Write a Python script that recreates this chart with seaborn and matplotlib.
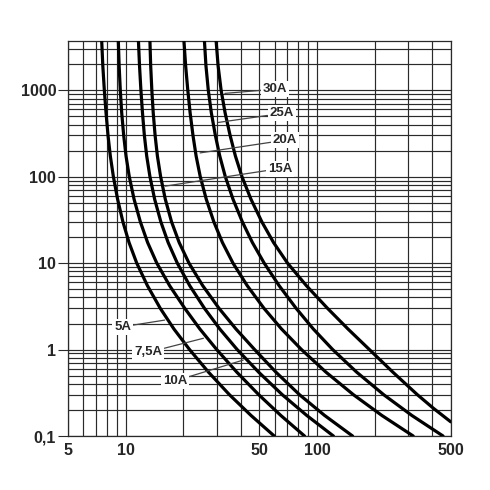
import numpy as np
import pandas as pd
import seaborn as sns
import matplotlib.pyplot as plt
from matplotlib.ticker import FixedLocator, NullFormatter

time_s = [3700, 1920, 1000, 548, 300, 173, 100, 54.8, 30, 17.3,
          10, 5.48, 3, 1.73, 1, 0.548, 0.3, 0.173, 0.1]
# 30A runs off the right edge before reaching 0.1 s
time_30a = [3700, 1920, 1000, 548, 300, 173, 100, 54.8, 30, 17.3,
            10, 5.48, 3, 1.73, 1, 0.548, 0.3, 0.209, 0.146]

# pre-arcing current (A) per fuse rating
cur_5a = [7.50, 7.60, 7.74, 7.90, 8.09, 8.32, 8.63, 9.08, 9.68, 10.42,
          11.43, 13.0, 15.17, 17.88, 21.58, 27.1, 34.9, 45.2, 59.8]
cur_7_5a = [9.16, 9.25, 9.38, 9.54, 9.77, 10.05, 10.45, 11.07, 11.94, 13.03,
            14.55, 16.98, 20.37, 24.43, 29.92, 38.1, 49.66, 64.7, 86.1]
cur_10a = [11.67, 11.82, 12.02, 12.25, 12.53, 12.89, 13.40, 14.18, 15.28, 16.68,
           18.62, 21.63, 25.82, 31.05, 38.28, 49.55, 65.92, 88.4, 121.9]
cur_15a = [13.40, 13.52, 13.71, 13.94, 14.26, 14.66, 15.24, 16.12, 17.38, 19.05,
           21.43, 25.29, 30.76, 37.72, 47.21, 61.0, 81.1, 109.6, 153.5]
cur_20a = [20.18, 20.59, 21.13, 21.73, 22.49, 23.36, 24.55, 26.39, 28.91, 32.05,
           36.39, 43.21, 52.84, 65.27, 82.99, 111.4, 155.2, 218.3, 318.4]
cur_25a = [25.82, 26.29, 27.04, 28.05, 29.44, 31.05, 33.19, 36.41, 40.74, 45.97,
           52.97, 63.43, 77.80, 95.68, 120.8, 161.2, 223.4, 313.1, 456.0]
cur_30a = [29.72, 30.43, 31.55, 33.10, 35.16, 37.48, 40.55, 45.19, 51.52, 59.29,
           70.15, 88.05, 113.5, 145.2, 187.9, 249.2, 335.0, 406.3, 500]

labels = ["5A", "7,5A", "10A", "15A", "20A", "25A", "30A"]

x_major = [5, 10, 50, 100, 500]
x_major_labels = ["5", "10", "50", "100", "500"]
y_major = [0.1, 1, 10, 100, 1000]
y_major_labels = ["0,1", "1", "10", "100", "1000"]

rows = []
series = [cur_5a, cur_7_5a, cur_10a, cur_15a, cur_20a, cur_25a, cur_30a]
for lab, cur in zip(labels, series):
    tt = time_30a if lab == "30A" else time_s
    for c, t in zip(cur, tt):
        rows.append({"fuse": lab, "current": c, "time": t})
df = pd.DataFrame(rows)

sns.set_style("white")
plt.rcParams["font.family"] = ["Liberation Sans", "DejaVu Sans"]

fig = plt.figure(figsize=(4.9, 4.9), dpi=100)
ax = fig.add_axes([0.1388, 0.1102, 0.781, 0.8061])

sns.lineplot(data=df, x="current", y="time", hue="fuse", units="fuse",
             estimator=None, sort=False, palette=["black"] * 7,
             linewidth=2.3, legend=False, ax=ax, zorder=3)
for ln in ax.lines:
    ln.set_solid_joinstyle("round")

ax.set_xscale("log")
ax.set_yscale("log")
ax.set_xlim(5, 500)
ax.set_ylim(0.1, 3700)

ax.xaxis.set_major_locator(FixedLocator(x_major))
ax.set_xticklabels(x_major_labels)
x_minor = [m * d for d in (1, 10, 100) for m in range(2, 10) if 5 < m * d < 500 and m * d not in x_major]
ax.xaxis.set_minor_locator(FixedLocator(x_minor))
ax.xaxis.set_minor_formatter(NullFormatter())

ax.yaxis.set_major_locator(FixedLocator(y_major))
ax.set_yticklabels(y_major_labels)
y_minor = [m * d for d in (0.1, 1, 10, 100, 1000) for m in range(2, 10) if m * d < 3700]
ax.yaxis.set_minor_locator(FixedLocator(y_minor))
ax.yaxis.set_minor_formatter(NullFormatter())

ax.grid(True, which="both", color="#2a2a2a", linewidth=0.85)
for s in ax.spines.values():
    s.set_color("#2a2a2a")
    s.set_linewidth(0.9)

ax.tick_params(axis="y", which="major", length=7, width=0.8, color="#2a2a2a",
               labelsize=11.5, pad=1.5, left=True)
ax.tick_params(axis="y", which="minor", length=0)
ax.tick_params(axis="x", which="both", length=0, labelsize=11.5, pad=5)
for t in ax.get_xticklabels() + ax.get_yticklabels():
    t.set_fontweight("bold")
ax.set_xlabel("")
ax.set_ylabel("")

# curve labels with leader lines: (text x, text y, leader start x, y)
ann = {
    "30A": (60.4, 1027, 33.0, 917),
    "25A": (65.4, 538, 30.5, 423),
    "20A": (68.1, 264, 24.5, 188),
    "15A": (64.1, 124, 16.1, 77.6),
    "5A": (9.66, 1.835, 16.0, 2.19),
    "7,5A": (13.14, 0.928, 25.5, 1.35),
    "10A": (18.12, 0.433, 41.2, 0.756),
}
for lab, (tx, ty, lx, ly) in ann.items():
    ax.annotate(lab, xy=(lx, ly), xytext=(tx, ty), fontsize=9.5, fontweight="bold",
                ha="center", va="center", zorder=5,
                bbox=dict(boxstyle="square,pad=0.15", fc="white", ec="none"),
                arrowprops=dict(arrowstyle="-", color="#444444", lw=0.9,
                                shrinkA=0, shrinkB=0))

fig.savefig("out.png", dpi=100)
